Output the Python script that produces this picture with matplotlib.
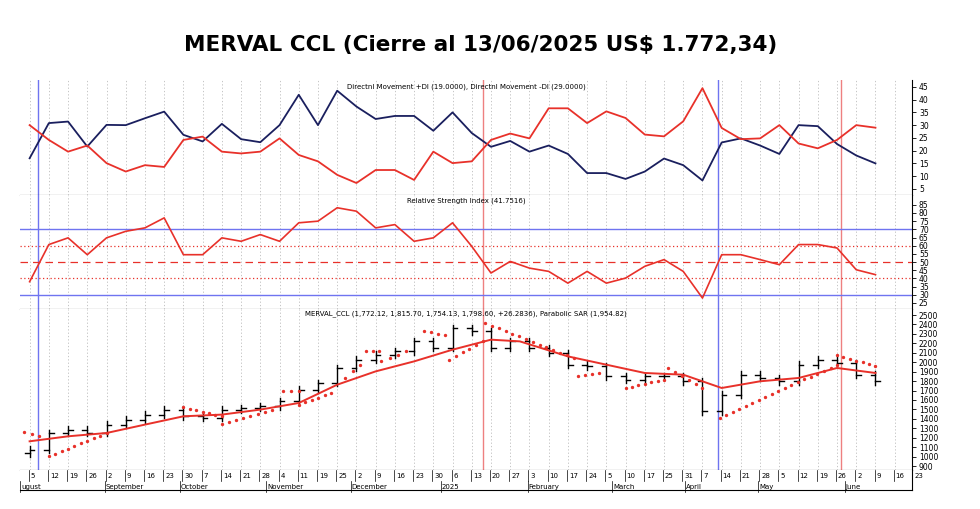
import matplotlib
matplotlib.use("Agg")
import matplotlib.pyplot as plt
import numpy as np

# ---- data (weekly samples, x = weeks since 5 Aug 2024) ----
weeks = list(range(0, 45))
di_plus = [17, 30.8, 31.4, 21.6, 30.1, 30, 32.7, 35.3, 26.2, 23.6, 30.5, 24.5, 23.3, 30, 41.9, 30, 43.5,
           37.3, 32.4, 33.6, 33.6, 27.8, 35, 26.9, 21.5, 23.8, 19.6, 22, 18.7, 11.2, 11.2, 8.9, 11.8, 16.9,
           14.3, 8.3, 23.2, 24.8, 22, 18.7, 30, 29.6, 22.6, 18.1, 15]
di_minus = [30, 24.2, 19.6, 22.0, 15.1, 11.8, 14.3, 13.6, 24.2, 25.5, 19.6, 18.9, 19.6, 24.8, 18.3, 15.8,
            10.5, 7.3, 12.4, 12.4, 8.5, 19.6, 15.1, 15.8, 24.2, 26.7, 24.8, 36.6, 36.6, 30.8, 35.4, 32.8,
            26.3, 25.6, 31.5, 44.5, 28.9, 24.5, 24.8, 30, 22.8, 20.9, 24.2, 30, 29]
rsi = [38, 60.7, 64.8, 54.5, 64.8, 68.8, 70.9, 77, 54.5, 54.5, 64.8, 62.7, 66.8, 62.7, 74, 75, 83.2, 81.1,
       70.9, 72.9, 62.7, 64.8, 74, 59.6, 43.3, 50.4, 46.3, 44.3, 37.1, 44.3, 37.1, 40.2, 47.4, 51.5, 44.3,
       28, 54.5, 54.5, 51.5, 48.4, 60.7, 60.7, 58.6, 45.3, 42.3]
close = [1074, 1250, 1286, 1250, 1339, 1392, 1445, 1498, 1427, 1410, 1498, 1515, 1533, 1586, 1709, 1780,
         1939, 2027, 2080, 2115, 2221, 2151, 2362, 2327, 2151, 2221, 2151, 2098, 1974, 1956, 1851, 1815,
         1851, 1851, 1798, 1480, 1656, 1868, 1833, 1798, 1974, 2027, 1992, 1868, 1798]
ma_weeks = [0, 2, 4, 6, 8, 10, 12, 14, 16, 18, 20, 22, 24, 25.5, 28, 30, 32, 34, 36, 38, 40, 42, 44]
ma = [1162, 1215, 1250, 1339, 1427, 1445, 1498, 1568, 1762, 1903, 2009, 2133, 2239, 2221, 2062, 1974,
      1886, 1868, 1727, 1798, 1833, 1939, 1886]
sar_segments = [
    ([-0.3, 0.5], [1261, 1215]),
    ([1.0, 4.0], [1003, 1250]),
    ([8.0, 10.0], [1526, 1427]),
    ([10.0, 12.6], [1346, 1498]),
    ([13.2, 14.0], [1692, 1692]),
    ([14.0, 15.7], [1550, 1674]),
    ([16.4, 17.2], [1833, 1974]),
    ([17.5, 18.2], [2115, 2115]),
    ([18.3, 19.6], [2009, 2115]),
    ([20.5, 21.6], [2327, 2292]),
    ([21.8, 23.6], [2027, 2221]),
    ([23.7, 28.3], [2415, 2045]),
    ([28.5, 29.6], [1851, 1886]),
    ([31.0, 33.0], [1727, 1815]),
    ([33.2, 35.0], [1939, 1727]),
    ([35.9, 42.0], [1409, 1974]),
    ([42.0, 44.0], [2080, 1956]),
]
blue_marks = [0.42, 35.8]
red_marks = [23.6, 42.2]
day_labels = ["5", "12", "19", "26", "2", "9", "16", "23", "30", "7", "14", "21", "28", "4", "11", "19", "25",
              "2", "9", "16", "23", "30", "6", "13", "20", "27", "3", "10", "17", "24", "5", "10", "17", "25",
              "31", "7", "14", "21", "28", "5", "12", "19", "26", "2", "9", "16", "23"]
month_labels = ["ugust", "September", "October", "November", "December", "2025", "February", "March",
                "April", "May", "June"]
month_pos = [-0.5, 3.9, 7.8, 12.3, 16.7, 21.4, 25.9, 30.3, 34.1, 37.9, 42.4]

W, H = 980, 509
fig = plt.figure(figsize=(W / 100, H / 100), dpi=100)
fig.text(0.49, 1 - 45 / H, "MERVAL CCL (Cierre al 13/06/2025 US$ 1.772,34)", ha="center", va="center",
         fontsize=15.5, fontweight="bold", family="DejaVu Sans")

L, R = 20, 912
def ax_at(top, bot):
    return fig.add_axes([L / W, 1 - bot / H, (R - L) / W, (bot - top) / H])

xmin, xmax = -0.5, 45.9
ax1 = ax_at(80, 195)
ax2 = ax_at(195, 309)
ax3 = ax_at(309, 470)
axd = ax_at(470, 490)
NAVY = "#1a1f5e"
RED = "#e8312a"
BLUE = "#6f74f0"
for ax in (ax1, ax2, ax3, axd):
    ax.set_xlim(xmin, xmax)
    for s in ax.spines.values():
        s.set_linewidth(0.8)
    ax.spines["left"].set_visible(False)
    ax.spines["top"].set_visible(False)
    ax.tick_params(axis="x", bottom=False, labelbottom=False)
for ax in (ax1, ax2, ax3):
    for w in range(0, 47):
        ax.axvline(w, color="#bbbbbb", lw=0.6, ls=(0, (1.5, 2.5)), zorder=0)
    ax.yaxis.tick_right()
    ax.tick_params(axis="y", labelsize=5.5, length=3, width=0.6, pad=2)
    for b in blue_marks:
        ax.axvline(b, color=BLUE, lw=1.0, zorder=1)
    for r in red_marks:
        ax.axvline(r, color="#ee8080", lw=1.0, zorder=1)

ax1.set_ylim(2.6, 47.7)
ax1.set_yticks(range(5, 50, 5))
ax1.plot(weeks, di_plus, color=NAVY, lw=1.3)
ax1.plot(weeks, di_minus, color=RED, lw=1.3)
ax1.text(0.5, 0.97, "Directnl Movement +DI (19.0000), Directnl Movement -DI (29.0000)", transform=ax1.transAxes,
         ha="center", va="top", fontsize=5)

ax2.set_ylim(21.3, 91)
ax2.set_yticks(range(25, 90, 5))
for v in (70, 30):
    ax2.axhline(v, color=BLUE, lw=1.0)
for v in (60, 40):
    ax2.axhline(v, color=RED, lw=0.9, ls=(0, (1, 2)))
ax2.axhline(50, color=RED, lw=0.9, ls=(0, (6, 4)))
ax2.plot(weeks, rsi, color=RED, lw=1.2)
ax2.text(0.5, 0.98, "Relative Strength Index (41.7516)", transform=ax2.transAxes, ha="center", va="top", fontsize=5)

ax3.set_ylim(858, 2564)
ax3.set_yticks(range(900, 2600, 100))
prev = close[0] - 40
for w, c in zip(weeks, close):
    hi = max(prev, c) + 35
    lo = min(prev, c) - 35
    ax3.plot([w, w], [lo, hi], color="black", lw=1.0)
    ax3.plot([w - 0.25, w], [prev, prev], color="black", lw=1.0)
    ax3.plot([w, w + 0.25], [c, c], color="black", lw=1.0)
    prev = c
ax3.plot(ma_weeks, ma, color=RED, lw=1.4)
for xs, ys in sar_segments:
    n = max(2, int((xs[1] - xs[0]) * 3) + 1)
    ax3.plot(np.linspace(xs[0], xs[1], n), np.linspace(ys[0], ys[1], n), ls="none", marker="o", ms=1.4,
             color=RED)
ax3.text(0.5, 0.99, "MERVAL_CCL (1,772.12, 1,815.70, 1,754.13, 1,798.60, +26.2836), Parabolic SAR (1,954.82)",
         transform=ax3.transAxes, ha="center", va="top", fontsize=5)

axd.set_ylim(0, 1)
axd.set_yticks([])
for i, lab in enumerate(day_labels):
    axd.plot([i - 0.05, i - 0.05], [0.45, 1], color="black", lw=0.5)
    axd.text(i + 0.05, 0.72, lab, fontsize=5, va="center", ha="left")
for p, lab in zip(month_pos, month_labels):
    axd.plot([p, p], [-0.1, 0.45], color="black", lw=0.5, clip_on=False)
    axd.text(p + 0.05, 0.15, lab, fontsize=5, va="center", ha="left")

fig.savefig("out.png", dpi=100)
